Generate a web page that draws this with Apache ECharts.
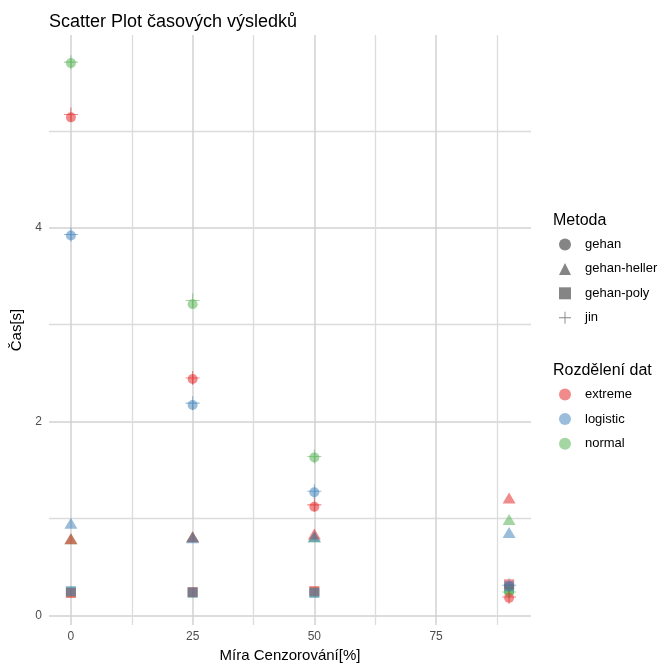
<!DOCTYPE html>
<html><head><meta charset="utf-8">
<script src="https://cdn.jsdelivr.net/npm/echarts@6/dist/echarts.min.js"></script>
<style>html,body{margin:0;padding:0;background:#fff}#c{width:661px;height:664px}</style>
</head><body><div id="c"></div>
<script>
// ---- data ----
const censoring = [0, 25, 50, 90];
const methods = ['gehan', 'gehan-heller', 'gehan-poly', 'jin'];
const distributions = ['extreme', 'logistic', 'normal'];
// values per censoring level (0, 25, 50, 90)
const gehan_extreme   = [5.14, 2.44, 1.12, 0.18];
const gehan_logistic  = [3.92, 2.17, 1.27, 0.30];
const gehan_normal    = [5.70, 3.21, 1.63, 0.24];
const heller_extreme  = [0.79, 0.81, 0.84, 1.21];
const heller_logistic = [0.95, 0.80, 0.81, 0.855];
const heller_normal   = [0.79, 0.81, 0.81, 0.99];
const poly_extreme    = [0.23, 0.24, 0.25, 0.32];
const poly_logistic   = [0.25, 0.235, 0.23, 0.30];
const poly_normal     = [0.24, 0.235, 0.24, 0.27];
const jin_extreme     = [5.17, 2.45, 1.14, 0.19];
const jin_logistic    = [3.93, 2.19, 1.28, 0.31];
const jin_normal      = [5.71, 3.25, 1.64, 0.24];
const xTicks = [0, 25, 50, 75];
const xMinorTicks = [12.5, 37.5, 62.5, 87.5];
const yTicks = [0, 2, 4];
const yMinorTicks = [1, 3, 5];

const values = {
  'gehan': {extreme: gehan_extreme, logistic: gehan_logistic, normal: gehan_normal},
  'gehan-heller': {extreme: heller_extreme, logistic: heller_logistic, normal: heller_normal},
  'gehan-poly': {extreme: poly_extreme, logistic: poly_logistic, normal: poly_normal},
  'jin': {extreme: jin_extreme, logistic: jin_logistic, normal: jin_normal}
};
const distColor = {
  extreme: 'rgba(228,26,28,0.64)',
  logistic: 'rgba(55,126,184,0.64)',
  normal: 'rgba(77,175,74,0.64)'
};
const plusPath = 'path://M-1,-0.075L1,-0.075L1,0.075L-1,0.075Z M-0.075,-1L0.075,-1L0.075,1L-0.075,1Z';
const methodSymbol = {
  'gehan': {symbol: 'circle', size: 10},
  'gehan-heller': {symbol: 'triangle', size: [13, 11]},
  'gehan-poly': {symbol: 'rect', size: 10},
  'jin': {symbol: plusPath, size: 14}
};
const drawOrder = ['normal', 'extreme', 'logistic'];

const FONT = '"Liberation Sans", Arial, sans-serif';
const series = [];
methods.forEach(m => {
  drawOrder.forEach(d => {
    series.push({
      type: 'scatter', name: m, xAxisIndex: 0, yAxisIndex: 0,
      symbol: methodSymbol[m].symbol, symbolSize: methodSymbol[m].size,
      itemStyle: {color: distColor[d]},
      emphasis: {disabled: true},
      data: censoring.map((x, i) => [x, values[m][d][i]])
    });
  });
});
distributions.forEach(d => {
  series.push({type: 'scatter', name: d, symbol: 'circle', itemStyle: {color: distColor[d]}, data: []});
});

const gridLine = {show: true, lineStyle: {color: '#d2d2d2', width: 1.5}};
const minorLine = {show: true, lineStyle: {color: '#dcdcdc', width: 1.3}};

const option = {
  animation: false,
  textStyle: {fontFamily: FONT},
  title: [
    {text: 'Scatter Plot časových výsledků', left: 44, top: 8,
     textStyle: {fontSize: 18, fontWeight: 'normal', color: '#000', fontFamily: FONT}},
    {text: 'Metoda', left: 548, top: 208,
     textStyle: {fontSize: 16, fontWeight: 'normal', color: '#000', fontFamily: FONT}},
    {text: 'Rozdělení dat', left: 548, top: 358,
     textStyle: {fontSize: 16, fontWeight: 'normal', color: '#000', fontFamily: FONT}}
  ],
  legend: [
    {orient: 'vertical', left: 559, top: 238, itemWidth: 12, itemHeight: 12, itemGap: 11.4,
     selectedMode: false, padding: 0,
     textStyle: {fontSize: 13, color: '#000', fontFamily: FONT, padding: [0, 0, 0, 9]},
     data: [
       {name: 'gehan', icon: 'circle', itemStyle: {color: '#666'}},
       {name: 'gehan-heller', icon: 'triangle', itemStyle: {color: '#666'}},
       {name: 'gehan-poly', icon: 'rect', itemStyle: {color: '#666'}},
       {name: 'jin', icon: plusPath, itemStyle: {color: '#666'}}
     ]},
    {orient: 'vertical', left: 559, top: 388, itemWidth: 12, itemHeight: 12, itemGap: 11.6,
     selectedMode: false, padding: 0,
     textStyle: {fontSize: 13, color: '#000', fontFamily: FONT, padding: [0, 0, 0, 9]},
     data: distributions.map(d => ({name: d, icon: 'circle'}))}
  ],
  grid: {left: 49, top: 35, width: 482, height: 590, containLabel: false, outerBoundsMode: 'none'},
  xAxis: [
    {type: 'value', min: -4.5, max: 94.5, position: 'bottom',
     name: 'Míra Cenzorování[%]', nameLocation: 'middle', nameGap: 23,
     nameTextStyle: {fontSize: 15, color: '#000', fontFamily: FONT},
     axisLine: {show: false}, axisTick: {show: false, customValues: xTicks},
     axisLabel: {customValues: xTicks, color: '#4d4d4d', fontSize: 12, margin: 6, fontFamily: FONT},
     splitLine: gridLine},
    {type: 'value', min: -4.5, max: 94.5, position: 'top',
     axisLine: {show: false}, axisTick: {show: false, customValues: xMinorTicks},
     axisLabel: {show: false, customValues: xMinorTicks},
     splitLine: minorLine}
  ],
  yAxis: [
    {type: 'value', min: -0.1, max: 5.99,
     name: 'Čas[s]', nameLocation: 'middle', nameGap: 23,
     nameTextStyle: {fontSize: 15, color: '#000', fontFamily: FONT},
     axisLine: {show: false}, axisTick: {show: false, customValues: yTicks},
     axisLabel: {customValues: yTicks, color: '#4d4d4d', fontSize: 12, margin: 7, fontFamily: FONT},
     splitLine: gridLine},
    {type: 'value', min: -0.1, max: 5.99, position: 'right',
     axisLine: {show: false}, axisTick: {show: false, customValues: yMinorTicks},
     axisLabel: {show: false, customValues: yMinorTicks},
     splitLine: minorLine}
  ],
  series: series
};
const chart = echarts.init(document.getElementById('c'), null, {renderer: 'canvas'});
chart.setOption(option);
</script></body></html>
